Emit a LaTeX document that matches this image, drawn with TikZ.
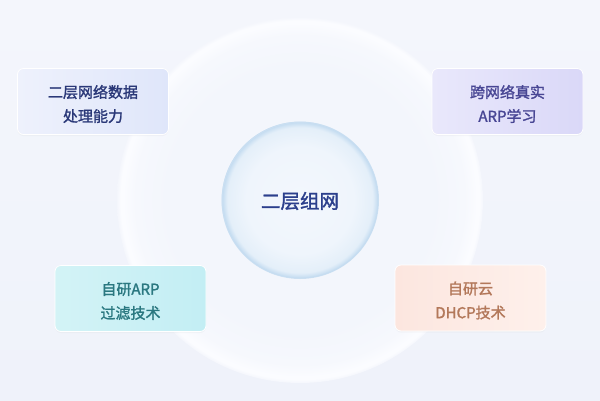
\documentclass[tikz,border=0pt]{standalone}
\usepackage{fontspec}
\newfontfamily\cjk[FakeBold=1.6]{Noto Sans CJK SC}
\usetikzlibrary{shadows}
\definecolor{bgtop}{HTML}{F4F6FC}
\definecolor{bgbot}{HTML}{EFF2FA}
\definecolor{bigc}{HTML}{F3F6FC}
\definecolor{bigm}{HTML}{F6F8FD}
\definecolor{bigr}{HTML}{FBFCFF}
\definecolor{smc}{HTML}{F3F7FD}
\definecolor{smm}{HTML}{EFF5FC}
\definecolor{sme}{HTML}{E4EFF9}
\definecolor{smr}{HTML}{C6DDF1}
\definecolor{tlL}{HTML}{EEF1FC}\definecolor{tlR}{HTML}{DFE6FA}\definecolor{tlT}{HTML}{2A3878}
\definecolor{trL}{HTML}{E9E8FB}\definecolor{trR}{HTML}{DAD8F8}\definecolor{trT}{HTML}{484694}
\definecolor{blL}{HTML}{D3F3F6}\definecolor{blR}{HTML}{C3EEF4}\definecolor{blT}{HTML}{2A7880}
\definecolor{brL}{HTML}{FCE6DF}\definecolor{brR}{HTML}{FEF0EB}\definecolor{brT}{HTML}{B3785A}
\definecolor{ctrT}{HTML}{2B3F8C}
\pgfdeclareradialshading{bigbubble}{\pgfpoint{0bp}{0bp}}{%
 color(0bp)=(bigc); color(18bp)=(bigc); color(22.5bp)=(bigm); color(24.2bp)=(bigr); color(24.5bp)=(bigr); color(25bp)=(bgtop); color(50bp)=(bgtop)}
\pgfdeclareradialshading{smallbubble}{\pgfpoint{0bp}{0bp}}{%
 color(0bp)=(smc); color(17bp)=(smm); color(23bp)=(sme); color(24.5bp)=(smr); color(24.8bp)=(smr); color(25bp)=(bigc); color(50bp)=(bigc)}
\tikzset{
  card/.style={rounded corners=6pt, minimum width=151pt, minimum height=66pt,
    draw=white, line width=0.8pt,
    drop shadow={shadow xshift=0pt, shadow yshift=-1.5pt, opacity=0.05}},
  cardtext/.style={align=center, inner sep=0pt, font=\cjk\fontsize{15}{24}\selectfont},
}
\begin{document}
\begin{tikzpicture}[x=1pt,y=-1pt]
\shade[top color=bgtop, bottom color=bgbot] (0,0) rectangle (600,400);
\useasboundingbox (0,0) rectangle (600,400);
% big bubble
\shade[shading=bigbubble] (300,200) circle (183);
% small bubble
\shade[shading=smallbubble] (300,200) circle (79);
\draw[smr, line width=0.5pt] (300,200) circle (78);
\node[font=\cjk\fontsize{19.5}{22}\selectfont, text=ctrT] (ctr) at (300,201) {二层组网};
% cards
\node[card, left color=tlL, right color=tlR] (tl) at (93,101.5) {};
\node[card, left color=trL, right color=trR] (tr) at (507.5,101.5) {};
\node[card, left color=blL, right color=blR] (bl) at (130.5,298.5) {};
\node[card, left color=brL, right color=brR] (br) at (470.5,298) {};
\node[cardtext, text=tlT] (tlt) at ([yshift=-2.5pt]tl.center) {二层网络数据\\处理能力};
\node[cardtext, text=trT] (trt) at ([yshift=-2.5pt]tr.center) {跨网络真实\\ARP学习};
\node[cardtext, text=blT] (blt) at ([yshift=-2.5pt]bl.center) {自研ARP\\过滤技术};
\node[cardtext, text=brT] (brt) at ([yshift=-2.5pt]br.center) {自研云\\DHCP技术};
\end{tikzpicture}
\end{document}
